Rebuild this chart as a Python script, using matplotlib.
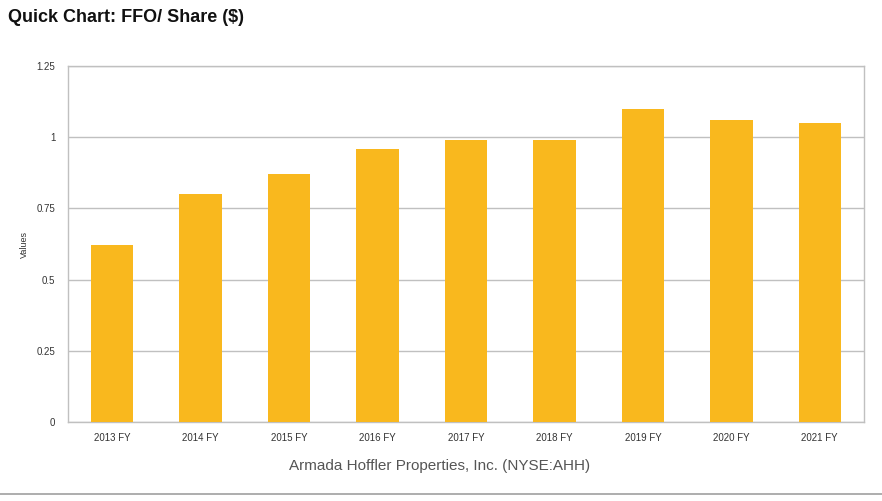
import matplotlib
matplotlib.use("Agg")
import matplotlib.pyplot as plt
from matplotlib.lines import Line2D

categories = ["2013 FY", "2014 FY", "2015 FY", "2016 FY", "2017 FY", "2018 FY", "2019 FY", "2020 FY", "2021 FY"]
values = [0.62, 0.80, 0.87, 0.96, 0.99, 0.99, 1.10, 1.06, 1.05]
yticks = [0, 0.25, 0.5, 0.75, 1.0, 1.25]
ytick_labels = ["0", "0.25", "0.5", "0.75", "1", "1.25"]

plt.rcParams['font.family'] = ['Liberation Sans', 'DejaVu Sans']

W, H = 882, 501
fig = plt.figure(figsize=(W/100, H/100), dpi=100)
ax = fig.add_axes([68/W, 1-422/H, (864-68)/W, (422-66)/H])

x = list(range(len(categories)))
ax.bar(x, values, width=0.48, color="#F9B81E", zorder=3)
ax.set_xlim(-0.5, len(categories)-0.5)
ax.set_ylim(0, 1.25)
ax.set_yticks(yticks)
ax.set_yticklabels(ytick_labels, fontsize=7, color="#333333")
ax.set_xticks(x)
ax.set_xticklabels(categories, fontsize=7, color="#333333")
ax.tick_params(axis='y', length=0, pad=9)
ax.tick_params(axis='x', length=0, pad=8)
ax.grid(axis='y', color="#C0C0C0", linewidth=1, zorder=0)
for s in ax.spines.values():
    s.set_color("#C0C0C0")
    s.set_linewidth(1)
ax.set_ylabel("Values", fontsize=6.5, color="#333333")
ax.yaxis.set_label_coords(-(68-29)/(864-68), 0.5)

fig.text(8/W, 1-18/H, "Quick Chart: FFO/ Share ($)", fontsize=13, fontweight='bold',
         ha='left', va='center', color="#111111")
fig.text(440/W, 1-466/H, "Armada Hoffler Properties, Inc. (NYSE:AHH)", fontsize=11,
         ha='center', va='center', color="#555555")
fig.add_artist(Line2D([0, 1], [1-494/H, 1-494/H], color="#A0A0A0", linewidth=1.2,
                      transform=fig.transFigure))

fig.savefig("out.png", dpi=100)
